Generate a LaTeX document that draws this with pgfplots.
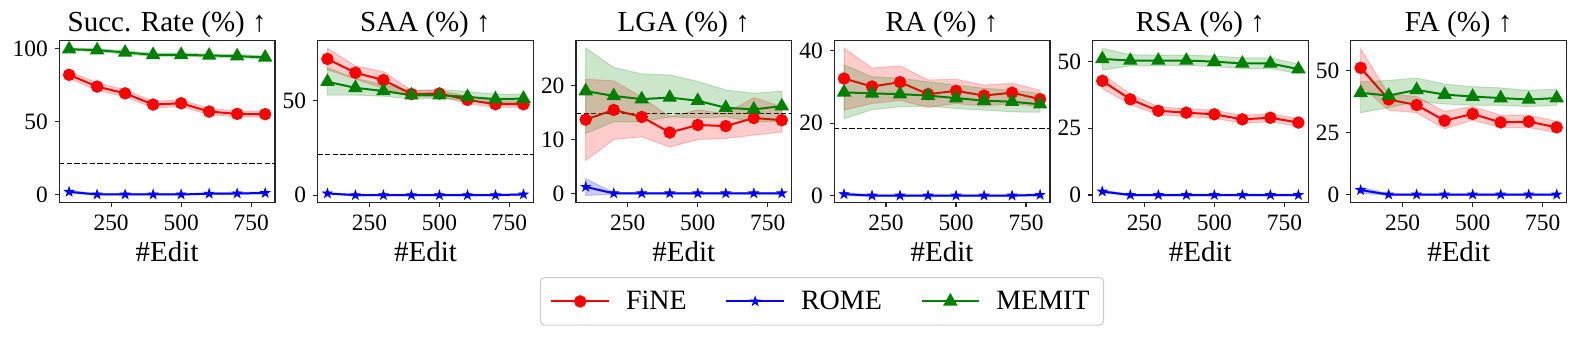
\documentclass[border=0pt]{standalone}
\usepackage{fontspec}
\setmainfont{Liberation Serif}
\usepackage{pgfplots}
\pgfplotsset{compat=1.18}

\pgfdeclareplotmark{fstar}{%
  \pgfpathmoveto{\pgfpointpolar{90}{\pgfplotmarksize}}%
  \pgfpathlineto{\pgfpointpolar{126}{0.382\pgfplotmarksize}}%
  \pgfpathlineto{\pgfpointpolar{162}{\pgfplotmarksize}}%
  \pgfpathlineto{\pgfpointpolar{198}{0.382\pgfplotmarksize}}%
  \pgfpathlineto{\pgfpointpolar{234}{\pgfplotmarksize}}%
  \pgfpathlineto{\pgfpointpolar{270}{0.382\pgfplotmarksize}}%
  \pgfpathlineto{\pgfpointpolar{306}{\pgfplotmarksize}}%
  \pgfpathlineto{\pgfpointpolar{342}{0.382\pgfplotmarksize}}%
  \pgfpathlineto{\pgfpointpolar{18}{\pgfplotmarksize}}%
  \pgfpathlineto{\pgfpointpolar{54}{0.382\pgfplotmarksize}}%
  \pgfpathclose\pgfusepathqfillstroke}

\definecolor{mred}{RGB}{255,0,0}
\definecolor{mblue}{RGB}{0,0,255}
\definecolor{mgreen}{RGB}{0,128,0}

\pgfplotsset{
  every axis title shift=0pt,
  panel/.style={
    scale only axis, width=107.85pt, height=81pt,
    anchor=south west,
    xmin=65, xmax=835, xtick={250,500,750},
    tick align=outside, major tick length=2.35pt,
    xtick pos=lower, ytick pos=left,
    tick style={line width=0.6pt, black!85},
    axis line style={line width=0.6pt, black!85},
    /pgf/number format/assume math mode=true,
    ticklabel style={font=\fontsize{11.7}{13}\selectfont},
    xticklabel style={anchor=base, inner sep=0pt, yshift=-11.4pt},
    yticklabel style={anchor=east, inner sep=0pt, xshift=-3.2pt},
    title style={at={(axis description cs:0.5,1)}, anchor=base, yshift=4.5pt, inner sep=0pt, font=\fontsize{14.5}{16}\selectfont},
    xlabel={\#Edit},
    xlabel style={at={(axis description cs:0.5,0)}, anchor=base, yshift=-29.5pt, inner sep=0pt, font=\fontsize{14.5}{16}\selectfont},
    clip=true,
  },
  fine/.style={mred, line width=1pt, mark=*, mark size=2.6pt, mark options={solid, fill=mred, draw=mred}},
  rome/.style={mblue, line width=1pt, mark=fstar, mark size=2.4pt, mark options={solid, fill=mblue, draw=mblue, line width=0.4pt}},
  memit/.style={mgreen, line width=1pt, mark=triangle*, mark size=3.2pt, mark options={solid, fill=mgreen, draw=mgreen}},
  band/.style={fill=#1, fill opacity=0.2, draw=#1, draw opacity=0.2, line width=0.5pt, forget plot},
  base/.style={black, line width=0.5pt, dash pattern=on 2.6pt off 1.2pt, forget plot},
}

\begin{document}
\begin{tikzpicture}
\path[use as bounding box] (0,0) rectangle (789pt,168.5pt);

% ---------- Panel 1: Succ. Rate ----------
\begin{axis}[panel, at={(29.65pt,67.25pt)}, title={Succ. Rate (\%) ↑},
  ymin=-5.5, ymax=105.5, ytick={0,50,100},
  legend columns=3,
  legend style={at={(3.536,-0.6105)}, anchor=center, draw=black!20, rounded corners=2pt, line width=0.5pt,
    inner xsep=5pt, inner ysep=4.5pt, font=\fontsize{14}{16}\selectfont,
    /tikz/every even column/.append style={column sep=17.3pt},
    /tikz/every odd column/.append style={column sep=6pt}},
  legend image code/.code={\draw[mark repeat=2,mark phase=2] plot coordinates {(0pt,0pt) (14.4pt,0pt) (28.85pt,0pt)};},
]
\addplot[base] coordinates {(65,21.1) (835,21.1)};
\addplot[band=mred] coordinates {(100,84.5)(200,76.4)(300,71.8)(400,63.9)(500,64.8)(600,59.0)(700,57.2)(800,57.0)(800,53.0)(700,53.2)(600,54.6)(500,60.2)(400,59.3)(300,66.8)(200,71.4)(100,79.5)} -- cycle;
\addplot[fine] coordinates {(100,82.0)(200,73.9)(300,69.3)(400,61.6)(500,62.5)(600,56.8)(700,55.2)(800,55.0)};
\addlegendentry{FiNE}
\addplot[band=mblue] coordinates {(100,2.8)(200,0.5)(300,0.5)(400,0.5)(500,0.5)(600,1.2)(700,1.4)(800,1.7)(800,0.4)(700,0.1)(600,0.0)(500,-0.3)(400,-0.3)(300,-0.3)(200,-0.3)(100,0.8)} -- cycle;
\addplot[rome] coordinates {(100,1.8)(200,0.0)(300,0.0)(400,0.0)(500,0.0)(600,0.5)(700,0.7)(800,1.0)};
\addlegendentry{ROME}
\addplot[band=mgreen] coordinates {(100,100.4)(200,99.9)(300,98.5)(400,96.8)(500,96.8)(600,96.3)(700,95.9)(800,95.0)(800,92.8)(700,93.7)(600,94.1)(500,94.6)(400,94.6)(300,96.1)(200,97.9)(100,98.6)} -- cycle;
\addplot[memit] coordinates {(100,99.5)(200,98.9)(300,97.3)(400,95.7)(500,95.7)(600,95.2)(700,94.8)(800,93.9)};
\addlegendentry{MEMIT}
\end{axis}

% ---------- Panel 2: SAA ----------
\begin{axis}[panel, at={(158.8pt,67.25pt)}, title={SAA (\%) ↑},
  ymin=-3.9, ymax=82, ytick={0,50}]
\addplot[base] coordinates {(65,21.7) (835,21.7)};
\addplot[band=mred] coordinates {(100,77.9)(200,68.5)(300,65.5)(400,55.5)(500,55.5)(600,52.5)(700,50.0)(800,50.0)(800,46.5)(700,46.5)(600,48.5)(500,52.3)(400,52.0)(300,56.6)(200,61.5)(100,66.5)} -- cycle;
\addplot[fine] coordinates {(100,72.2)(200,64.9)(300,61.0)(400,53.6)(500,53.9)(600,50.5)(700,48.2)(800,48.2)};
\addplot[band=mblue] coordinates {(100,1.3)(200,0.4)(300,0.4)(400,0.4)(500,0.4)(600,0.4)(700,0.4)(800,0.8)(800,0.0)(700,-0.4)(600,-0.4)(500,-0.4)(400,-0.4)(300,-0.4)(200,-0.4)(100,0.5)} -- cycle;
\addplot[rome] coordinates {(100,0.9)(200,0.0)(300,0.0)(400,0.0)(500,0.0)(600,0.0)(700,0.0)(800,0.4)};
\addplot[band=mgreen] coordinates {(100,67.6)(200,62.0)(300,58.5)(400,55.5)(500,56.0)(600,55.0)(700,53.5)(800,53.5)(800,49.0)(700,49.0)(600,50.0)(500,51.5)(400,51.0)(300,52.5)(200,53.0)(100,53.0)} -- cycle;
\addplot[memit] coordinates {(100,60.1)(200,56.9)(300,55.2)(400,53.0)(500,53.0)(600,52.1)(700,50.9)(800,51.2)};
\end{axis}

% ---------- Panel 3: LGA ----------
\begin{axis}[panel, at={(287.95pt,67.25pt)}, title={LGA (\%) ↑},
  ymin=-1.7, ymax=28.4, ytick={0,10,20}]
\addplot[base] coordinates {(65,14.8) (835,14.8)};
\addplot[band=mred] coordinates {(100,21.2)(200,20.9)(300,17.9)(400,14.2)(500,15.5)(600,14.8)(700,17.8)(800,16.1)(800,11.4)(700,10.8)(600,10.2)(500,10.0)(400,8.6)(300,10.5)(200,10.0)(100,6.1)} -- cycle;
\addplot[fine] coordinates {(100,13.7)(200,15.5)(300,14.2)(400,11.3)(500,12.7)(600,12.5)(700,14.0)(800,13.6)};
\addplot[band=mblue] coordinates {(100,2.7)(200,0.15)(300,0.15)(400,0.15)(500,0.15)(600,0.15)(700,0.15)(800,0.15)(800,-0.15)(700,-0.15)(600,-0.15)(500,-0.15)(400,-0.15)(300,-0.15)(200,-0.15)(100,-0.4)} -- cycle;
\addplot[rome] coordinates {(100,1.2)(200,0.0)(300,0.0)(400,0.0)(500,0.0)(600,0.0)(700,0.0)(800,0.0)};
\addplot[band=mgreen] coordinates {(100,27.0)(200,23.4)(300,22.2)(400,22.0)(500,20.8)(600,19.2)(700,18.6)(800,19.0)(800,13.3)(700,13.3)(600,14.2)(500,14.0)(400,14.2)(300,13.3)(200,13.3)(100,11.1)} -- cycle;
\addplot[memit] coordinates {(100,19.0)(200,18.1)(300,17.5)(400,17.8)(500,17.2)(600,15.9)(700,15.6)(800,16.2)};
\end{axis}

% ---------- Panel 4: RA ----------
\begin{axis}[panel, at={(417.1pt,67.25pt)}, title={RA (\%) ↑},
  ymin=-1.9, ymax=42.8, ytick={0,20,40}]
\addplot[base] coordinates {(65,18.6) (835,18.6)};
\addplot[band=mred] coordinates {(100,40.7)(200,35.2)(300,35.8)(400,31.9)(500,32.1)(600,30.5)(700,31.0)(800,29.1)(800,24.5)(700,25.4)(600,24.7)(500,25.4)(400,24.3)(300,26.3)(200,25.4)(100,23.6)} -- cycle;
\addplot[fine] coordinates {(100,32.3)(200,30.1)(300,31.3)(400,28.0)(500,28.9)(600,27.6)(700,28.4)(800,26.6)};
\addplot[band=mblue] coordinates {(100,0.8)(200,0.2)(300,0.2)(400,0.2)(500,0.2)(600,0.2)(700,0.2)(800,0.5)(800,-0.1)(700,-0.2)(600,-0.2)(500,-0.2)(400,-0.2)(300,-0.2)(200,-0.2)(100,0.0)} -- cycle;
\addplot[rome] coordinates {(100,0.4)(200,0.0)(300,0.0)(400,0.0)(500,0.0)(600,0.0)(700,0.0)(800,0.2)};
\addplot[band=mgreen] coordinates {(100,36.1)(200,32.8)(300,32.4)(400,31.4)(500,30.5)(600,29.6)(700,29.1)(800,28.2)(800,23.0)(700,23.1)(600,23.6)(500,24.0)(400,24.7)(300,24.5)(200,23.7)(100,21.2)} -- cycle;
\addplot[memit] coordinates {(100,28.5)(200,28.2)(300,28.0)(400,27.6)(500,26.9)(600,26.2)(700,25.9)(800,25.2)};
\end{axis}

% ---------- Panel 5: RSA ----------
\begin{axis}[panel, at={(546.25pt,67.25pt)}, title={RSA (\%) ↑},
  ymin=-2.8, ymax=57.8, ytick={0,25,50}]
\addplot[band=mred] coordinates {(100,45.2)(200,37.8)(300,33.0)(400,32.3)(500,31.7)(600,29.8)(700,30.4)(800,28.6)(800,25.6)(700,27.4)(600,26.8)(500,28.7)(400,29.3)(300,30.0)(200,33.8)(100,39.8)} -- cycle;
\addplot[fine] coordinates {(100,42.7)(200,35.8)(300,31.5)(400,30.8)(500,30.2)(600,28.3)(700,28.9)(800,27.1)};
\addplot[band=mblue] coordinates {(100,1.8)(200,0.3)(300,0.3)(400,0.3)(500,0.3)(600,0.3)(700,0.3)(800,0.3)(800,-0.3)(700,-0.3)(600,-0.3)(500,-0.3)(400,-0.3)(300,-0.3)(200,-0.3)(100,0.8)} -- cycle;
\addplot[rome] coordinates {(100,1.3)(200,0.0)(300,0.0)(400,0.0)(500,0.0)(600,0.0)(700,0.0)(800,0.0)};
\addplot[band=mgreen] coordinates {(100,54.9)(200,52.5)(300,52.3)(400,52.3)(500,52.0)(600,51.3)(700,51.3)(800,49.0)(800,45.5)(700,47.3)(600,47.3)(500,48.0)(400,48.5)(300,48.3)(200,48.3)(100,46.7)} -- cycle;
\addplot[memit] coordinates {(100,50.9)(200,50.3)(300,50.3)(400,50.3)(500,49.9)(600,49.2)(700,49.2)(800,47.1)};
\end{axis}

% ---------- Panel 6: FA ----------
\begin{axis}[panel, at={(675.4pt,67.25pt)}, title={FA (\%) ↑},
  ymin=-3.2, ymax=62.1, ytick={0,25,50}]
\addplot[band=mred] coordinates {(100,58.8)(200,40.5)(300,39.5)(400,33.5)(500,35.5)(600,32.0)(700,32.0)(800,29.5)(800,25.0)(700,27.0)(600,27.0)(500,30.0)(400,26.5)(300,33.0)(200,34.0)(100,44.0)} -- cycle;
\addplot[fine] coordinates {(100,51.1)(200,38.3)(300,36.1)(400,29.8)(500,32.5)(600,29.1)(700,29.4)(800,27.1)};
\addplot[band=mblue] coordinates {(100,3.0)(200,0.3)(300,0.3)(400,0.3)(500,0.3)(600,0.3)(700,0.3)(800,0.3)(800,-0.3)(700,-0.3)(600,-0.3)(500,-0.3)(400,-0.3)(300,-0.3)(200,-0.3)(100,0.5)} -- cycle;
\addplot[rome] coordinates {(100,1.8)(200,0.0)(300,0.0)(400,0.0)(500,0.0)(600,0.0)(700,0.0)(800,0.0)};
\addplot[band=mgreen] coordinates {(100,45.5)(200,46.0)(300,47.0)(400,44.5)(500,43.5)(600,43.0)(700,42.0)(800,42.5)(800,36.0)(700,35.5)(600,36.0)(500,36.0)(400,36.5)(300,37.5)(200,35.0)(100,33.0)} -- cycle;
\addplot[memit] coordinates {(100,41.0)(200,39.9)(300,42.2)(400,40.3)(500,39.5)(600,38.9)(700,38.3)(800,38.9)};
\end{axis}
\end{tikzpicture}
\end{document}
